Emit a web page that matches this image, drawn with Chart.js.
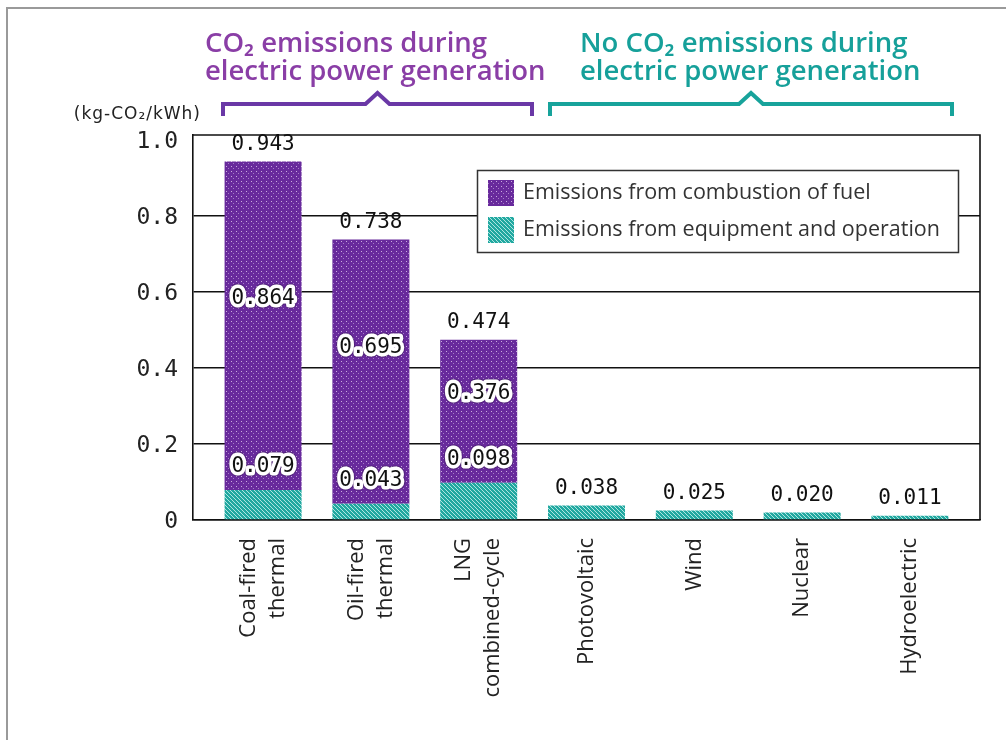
<!DOCTYPE html>
<html lang="en">
<head>
  <meta charset="UTF-8">
  <title>CO2 emissions by power source</title>
  <style>
    body {
      margin: 0;
      background: #fff;
    }

    .wrap {
      position: relative;
      width: 1006px;
      height: 740px;
      overflow: hidden;
    }

    .frame {
      position: absolute;
      left: 6px;
      top: 7px;
      width: 1100px;
      height: 800px;
      border-top: 2px solid #9a9a9a;
      border-left: 2px solid #9a9a9a;
    }

    canvas {
      position: absolute;
      left: 0;
      top: 0;
    }
  </style>
</head>
<body>
<div class="wrap">
  <div class="frame"></div>
  <canvas id="emissionChart" width="1006" height="740"></canvas>
</div>

<script src="https://cdn.jsdelivr.net/npm/chart.js"></script>
<script>
  // values in kg-CO2/kWh
  const categories = [
    ['Coal-fired', 'thermal'],
    ['Oil-fired', 'thermal'],
    ['LNG', 'combined-cycle'],
    ['Photovoltaic'],
    ['Wind'],
    ['Nuclear'],
    ['Hydroelectric']
  ];
  const fuelEmissions = [0.864, 0.695, 0.376, 0, 0, 0, 0];
  const equipmentEmissions = [0.079, 0.043, 0.098, 0.038, 0.025, 0.020, 0.011];
  const yTicks = [0, 0.2, 0.4, 0.6, 0.8, 1.0];

  const fuelLabel = 'Emissions from combustion of fuel';
  const equipmentLabel = 'Emissions from equipment and operation';

  const PURPLE = '#682a9c';
  const TEAL = '#21a8a0';

  function dotPattern() {
    const c = document.createElement('canvas');
    c.width = 5;
    c.height = 5;
    const g = c.getContext('2d');
    g.fillStyle = PURPLE;
    g.fillRect(0, 0, 5, 5);
    g.fillStyle = 'rgba(225, 205, 240, 0.8)';
    g.fillRect(1, 1, 1, 1);
    g.fillStyle = 'rgba(225, 205, 240, 0.5)';
    g.fillRect(3, 3, 1, 1);
    return g.createPattern(c, 'repeat');
  }

  function hatchPattern() {
    const c = document.createElement('canvas');
    c.width = 4;
    c.height = 4;
    const g = c.getContext('2d');
    g.fillStyle = TEAL;
    g.fillRect(0, 0, 4, 4);
    g.fillStyle = 'rgba(235, 255, 252, 0.7)';
    for (let i = 0; i < 4; i++) g.fillRect(i, i, 1, 1);
    return g.createPattern(c, 'repeat');
  }

  const purpleFill = dotPattern();
  const tealFill = hatchPattern();

  function haloText(ctx, text, x, y) {
    ctx.save();
    ctx.lineJoin = 'round';
    ctx.lineWidth = 9;
    ctx.strokeStyle = 'rgba(40, 20, 60, 0.35)';
    ctx.strokeText(text, x, y);
    ctx.lineWidth = 7;
    ctx.strokeStyle = '#fff';
    ctx.strokeText(text, x, y);
    ctx.fillStyle = '#111';
    ctx.fillText(text, x, y);
    ctx.restore();
  }

  // frame, header brackets, axis title, category labels, value labels, legend
  const decorations = {
    id: 'decorations',
    afterDatasetsDraw(chart) {
      const ctx = chart.ctx;
      const area = chart.chartArea;
      const xs = chart.scales.x;
      const teal = chart.getDatasetMeta(0).data;
      const purple = chart.getDatasetMeta(1).data;

      ctx.save();

      // top and right border of plot
      ctx.strokeStyle = '#111';
      ctx.lineWidth = 1.6;
      ctx.beginPath();
      ctx.moveTo(area.left, area.top);
      ctx.lineTo(area.right, area.top);
      ctx.lineTo(area.right, area.bottom);
      ctx.stroke();

      // value labels
      ctx.font = '21px "DejaVu Sans Mono"';
      ctx.textAlign = 'center';
      ctx.textBaseline = 'middle';
      for (let i = 0; i < categories.length; i++) {
        const hasFuel = fuelEmissions[i] > 0;
        const x = teal[i].x;
        const top = hasFuel ? purple[i].y : teal[i].y;
        const total = fuelEmissions[i] + equipmentEmissions[i];
        ctx.fillStyle = '#111';
        ctx.fillText(total.toFixed(3), x, top - 17);
        if (hasFuel) {
          const eqY = teal[i].y - 23;
          haloText(ctx, equipmentEmissions[i].toFixed(3), x, eqY);
          haloText(ctx, fuelEmissions[i].toFixed(3), x, top + 0.45 * (eqY - top));
        }
      }

      // category labels, rotated
      ctx.font = '22px "Open Sans"';
      ctx.fillStyle = '#222';
      ctx.textAlign = 'right';
      ctx.textBaseline = 'middle';
      categories.forEach((lines, i) => {
        const x = xs.getPixelForValue(i);
        ctx.save();
        ctx.translate(x, area.bottom + 18);
        ctx.rotate(-Math.PI / 2);
        lines.forEach((line, j) => {
          ctx.fillText(line, 0, (j - (lines.length - 1) / 2) * 29);
        });
        ctx.restore();
      });

      // legend
      ctx.fillStyle = '#fff';
      ctx.fillRect(477, 170, 481, 82);
      ctx.strokeStyle = '#333';
      ctx.lineWidth = 1.5;
      ctx.strokeRect(477.5, 170.5, 481, 82);
      ctx.fillStyle = purpleFill;
      ctx.fillRect(488, 180, 26, 26);
      ctx.fillStyle = tealFill;
      ctx.fillRect(488, 217, 26, 26);
      ctx.font = '21.5px "Open Sans"';
      ctx.fillStyle = '#333';
      ctx.textAlign = 'left';
      ctx.fillText(fuelLabel, 523, 193);
      ctx.fillText(equipmentLabel, 523, 230);

      // unit
      ctx.font = '17px "DejaVu Sans"';
      ctx.letterSpacing = '1px';
      ctx.fillStyle = '#222';
      ctx.textAlign = 'right';
      ctx.fillText('(kg-CO\u2082/kWh)', 201, 115);
      ctx.letterSpacing = '0px';

      // group headers
      ctx.font = '600 27.5px "Open Sans"';
      ctx.textAlign = 'left';
      ctx.textBaseline = 'alphabetic';
      ctx.fillStyle = '#8a3ea6';
      ctx.fillText('CO\u2082 emissions during', 205, 52);
      ctx.fillText('electric power generation', 205, 80);
      ctx.fillStyle = '#16a09a';
      ctx.fillText('No CO\u2082 emissions during', 580, 52);
      ctx.fillText('electric power generation', 580, 80);

      // brackets
      ctx.lineWidth = 4;
      ctx.lineJoin = 'miter';
      [[223, 532, '#6a38a6'], [550, 952, '#17a39b']].forEach(([l, r, col]) => {
        const m = (l + r) / 2;
        ctx.strokeStyle = col;
        ctx.beginPath();
        ctx.moveTo(l, 116);
        ctx.lineTo(l, 104);
        ctx.lineTo(m - 12, 104);
        ctx.lineTo(m, 93);
        ctx.lineTo(m + 12, 104);
        ctx.lineTo(r, 104);
        ctx.lineTo(r, 116);
        ctx.stroke();
      });

      ctx.restore();
    }
  };

  const ctx = document.getElementById('emissionChart').getContext('2d');
  new Chart(ctx, {
    type: 'bar',
    data: {
      datasets: [
        {
          label: equipmentLabel,
          data: equipmentEmissions.map((v, i) => ({ x: i, y: v })),
          backgroundColor: tealFill,
          borderWidth: 0
        },
        {
          label: fuelLabel,
          data: fuelEmissions.map((v, i) => ({ x: i, y: v })),
          backgroundColor: purpleFill,
          borderWidth: 0
        }
      ]
    },
    options: {
      responsive: false,
      animation: false,
      categoryPercentage: 1,
      barPercentage: 0.714,
      layout: {
        padding: { left: 0, top: 135, right: 26, bottom: 0 }
      },
      scales: {
        x: {
          type: 'linear',
          stacked: true,
          offset: false,
          bounds: 'data',
          min: -0.65,
          max: 6.65,
          afterBuildTicks: s => { s.ticks = categories.map((c, i) => ({ value: i })); },
          grid: { display: false },
          border: { display: true, color: '#111', width: 1.6 },
          ticks: { display: false },
          afterFit: s => { s.height = 220; }
        },
        y: {
          stacked: true,
          min: 0,
          max: 1.013,
          afterBuildTicks: s => { s.ticks = yTicks.map(v => ({ value: v })); },
          afterFit: s => { s.width = 193; },
          grid: {
            drawTicks: false,
            lineWidth: 1.6,
            color: c => (c.tick && c.tick.value >= 1 ? 'rgba(0,0,0,0)' : '#111')
          },
          border: { display: true, color: '#111', width: 1.6 },
          ticks: {
            padding: 15,
            labelOffset: 2,
            color: '#222',
            font: { family: 'DejaVu Sans Mono', size: 23 },
            callback: v => (v === 0 ? '0' : v.toFixed(1))
          }
        }
      },
      plugins: {
        legend: { display: false },
        tooltip: { enabled: false },
        title: { display: false }
      }
    },
    plugins: [decorations]
  });
</script>
</body>
</html>
